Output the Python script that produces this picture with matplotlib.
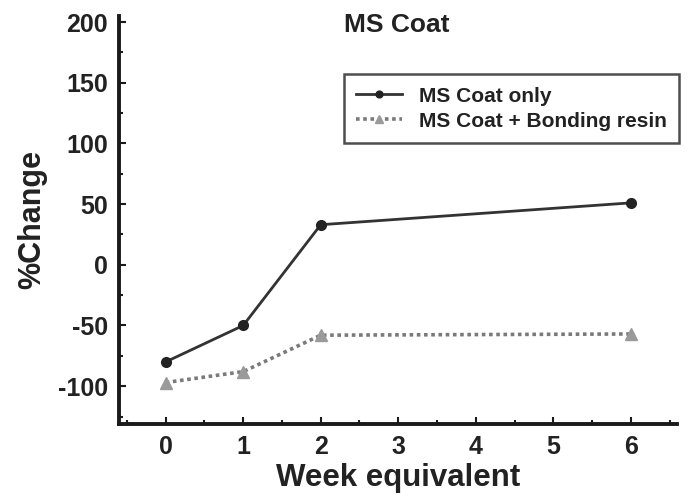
import numpy as np
import matplotlib
matplotlib.use("Agg")
import matplotlib.pyplot as plt
from matplotlib.ticker import MultipleLocator

plt.rcParams['font.family'] = ['Liberation Sans', 'DejaVu Sans']
plt.rcParams['font.weight'] = 'bold'
plt.rcParams['axes.unicode_minus'] = False

# data
weeks_only = [0, 1, 2, 6]
change_only = [-80, -50, 33, 51]
weeks_resin = [0, 1, 2, 6]
change_resin = [-97, -88, -58, -57]
label_only = "MS Coat only"
label_resin = "MS Coat + Bonding resin"
xticks = [0, 1, 2, 3, 4, 5, 6]
yticks = [-100, -50, 0, 50, 100, 150, 200]

fig = plt.figure(figsize=(6.89, 4.98), dpi=100)
ax = fig.add_axes([0.173, 0.149, 0.810, 0.819])

ax.plot(weeks_only, change_only, color='#333333', lw=2.0, marker='o',
        markersize=7, markerfacecolor='#222222', markeredgecolor='#222222',
        label=label_only)
ax.plot(weeks_resin, change_resin, color='#7a7a7a', lw=2.6,
        linestyle=(0, (1, 1)), marker='^', markersize=8,
        markerfacecolor='#9a9a9a', markeredgecolor='#9a9a9a',
        label=label_resin)

ax.set_xlim(-0.6, 6.6)
ax.set_ylim(-131, 205)
ax.set_xticks(xticks)
ax.set_yticks(yticks)
ax.xaxis.set_minor_locator(MultipleLocator(0.5))
ax.yaxis.set_minor_locator(MultipleLocator(25))

for s in ['top', 'right']:
    ax.spines[s].set_visible(False)
for s in ['left', 'bottom']:
    ax.spines[s].set_linewidth(2.8)
    ax.spines[s].set_color('#1a1a1a')

ax.tick_params(which='both', direction='in', color='#1a1a1a', width=1.5)
ax.tick_params(which='major', length=5)
ax.tick_params(which='minor', length=3)
ax.tick_params(axis='x', which='major', pad=8, labelsize=18, labelcolor='#222222')
ax.tick_params(axis='y', which='major', pad=8, labelsize=18, labelcolor='#222222')

ax.set_xlabel("Week equivalent", fontsize=22.5, fontweight='bold', color='#222222', labelpad=3)
ax.set_ylabel("%Change", fontsize=22, fontweight='bold', color='#222222', labelpad=8)

fig.text(397 / 689, 1 - 25 / 498, "MS Coat", ha='center', va='center',
         fontsize=19, fontweight='bold', color='#222222')

leg = ax.legend(loc='upper right', bbox_to_anchor=(679 / 689, 1 - 74 / 498),
                bbox_transform=fig.transFigure, fontsize=15, frameon=True,
                fancybox=False, borderaxespad=0, handlelength=2.2,
                borderpad=0.6, labelspacing=0.3, handletextpad=0.8,
                markerscale=0.7)
leg.get_frame().set_edgecolor('#222222')
leg.get_frame().set_linewidth(1.8)
for t in leg.get_texts():
    t.set_color('#222222')

fig.savefig("out.png", dpi=100)
